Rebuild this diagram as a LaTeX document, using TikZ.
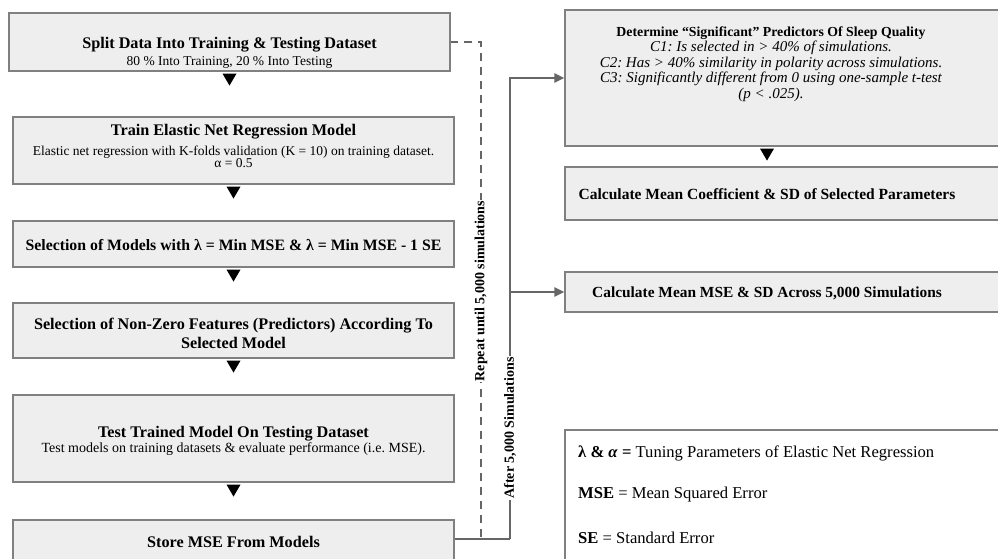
\documentclass[tikz,border=0pt]{standalone}
\usepackage{fontspec}
\setmainfont{Liberation Serif}
\usetikzlibrary{arrows.meta}
\definecolor{boxfill}{HTML}{EEEEEE}
\definecolor{boxline}{HTML}{808080}
\definecolor{connc}{HTML}{666666}
\newcommand\ttlf{\fontsize{16.2}{19}\selectfont\bfseries}
\newcommand\subf{\fontsize{13.5}{15}\selectfont}
\newcommand\tridown[1]{\fill[black] ([yshift=-2pt]#1) ++(-7,0) -- ++(14,0) -- ++(-7,12) -- cycle;}
\frenchspacing
\begin{document}
\frenchspacing
\begin{tikzpicture}[x=1pt,y=-1pt,
  box/.style={draw=boxline, fill=boxfill, line width=1.2pt, inner sep=0pt},
  legendbox/.style={draw=boxline, fill=white, line width=1.2pt, inner sep=0pt},
  lbl/.style={align=center, inner sep=0pt},
  conn/.style={draw=connc, line width=2pt},
  arr/.style={-{Triangle[length=10pt,width=9pt]}},
  rotlbl/.style={rotate=90, fill=white, inner sep=1pt, font=\fontsize{14}{16}\selectfont\bfseries}]
\clip (0,0) rectangle (998,559);
\fill[white] (0,0) rectangle (998,559);

% left column boxes
\node[box, minimum width=441pt, minimum height=58pt] (b1) at (229.5,42) {};
\node[box, minimum width=441pt, minimum height=67pt] (b2) at (233.5,150.5) {};
\node[box, minimum width=441pt, minimum height=46pt] (b3) at (233.5,244) {};
\node[box, minimum width=441pt, minimum height=55pt] (b4) at (233.5,330.5) {};
\node[box, minimum width=441pt, minimum height=87pt] (b5) at (233.5,438.5) {};
\node[box, minimum width=441pt, minimum height=80pt] (b6) at (233.5,560) {};

\node[lbl] (t1) at (229.5,53) {{\ttlf Split Data Into Training \& Testing Dataset}\\[4pt]{\subf 80 \% Into Training, 20 \% Into Testing}};
\node[lbl] (t2) at (233.5,146) {{\ttlf Train Elastic Net Regression Model}\\[5pt]{\subf Elastic net regression with K-folds validation (K = 10) on training dataset.}\\{\subf α = 0.5}};
\node[lbl] (t3) at (233.5,245) {\fontsize{15.8}{19}\selectfont\bfseries Selection of Models with λ = Min MSE \& λ = Min MSE - 1 SE};
\node[lbl, font=\ttlf] (t4) at (233.5,333) {Selection of Non-Zero Features (Predictors) According To\\Selected Model};
\node[lbl] (t5) at (233.5,441) {{\ttlf Test Trained Model On Testing Dataset}\\[1pt]{\fontsize{14}{15}\selectfont Test models on training datasets \& evaluate performance (i.e. MSE).}};
\node[lbl] (t6) at (233.5,542) {\ttlf Store MSE From Models};

\tridown{b1.south}
\tridown{b2.south}
\tridown{b3.south}
\tridown{b4.south}
\tridown{b5.south}

% right column boxes
\node[box, minimum width=445pt, minimum height=136pt] (b7) at (787.5,78) {};
\node[box, minimum width=445pt, minimum height=53pt] (b8) at (787.5,193.5) {};
\node[box, minimum width=445pt, minimum height=40pt] (b9) at (787.5,292) {};
\node[legendbox, minimum width=445pt, minimum height=170pt] (lg) at (787.5,515) {};

\node[lbl, font=\fontsize{15}{15.6}\selectfont] (t7) at (771,64) {{\fontsize{13.8}{15.6}\selectfont\bfseries Determine “Significant” Predictors Of Sleep Quality}\\\itshape C1: Is selected in > 40\% of simulations.\\\itshape C2: Has > 40\% similarity in polarity across simulations.\\\itshape C3: Significantly different from 0 using one-sample t-test\\\itshape (p < .025).};
\node[lbl, font=\fontsize{15.5}{19}\selectfont\bfseries] (t8) at (767,194) {Calculate Mean Coefficient \& SD of Selected Parameters};
\node[lbl, font=\fontsize{15.4}{19}\selectfont\bfseries] (t9) at (767,293) {Calculate Mean MSE \& SD Across 5,000 Simulations};

\tridown{t8 |- b7.south}

\node[anchor=west, inner sep=0pt, font=\fontsize{16.6}{19}\selectfont] (l1) at (578,453) {\textbf{λ \& \textit{α} =} Tuning Parameters of Elastic Net Regression};
\node[anchor=west, inner sep=0pt, font=\fontsize{16.6}{19}\selectfont] (l2) at (578,495) {\textbf{MSE} = Mean Squared Error};
\node[anchor=west, inner sep=0pt, font=\fontsize{16.6}{19}\selectfont] (l3) at (578,538) {\textbf{SE} = Standard Error};

% connectors
\coordinate (jd) at (481,539);
\coordinate (js) at (510,539);
\coordinate (jt) at (510,78);
\coordinate (jm) at (510,292);
\draw[conn, dashed, dash pattern=on 8pt off 6pt] (b6.east |- jd) -- (jd) -- (jd |- b1.east) -- (b1.east);
\draw[conn] (b6.east |- js) -- (js);
\draw[conn, arr] (js) -- (jt) -- (b7.west |- jt);
\draw[conn, arr] (jm) -- (b9.west |- jm);
\node[rotlbl] (r1) at (481,291) {Repeat until 5,000 simulations};
\node[rotlbl] (r2) at (510,428) {After 5,000 Simulations};
\end{tikzpicture}
\end{document}
